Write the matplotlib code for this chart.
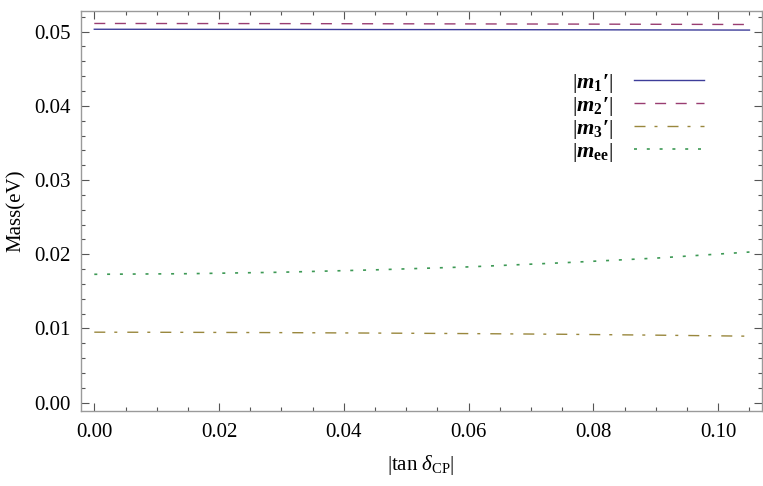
import matplotlib
matplotlib.use("Agg")
import matplotlib.pyplot as plt
import numpy as np

plt.rcParams['font.family'] = ['Liberation Serif', 'DejaVu Serif']
plt.rcParams['mathtext.fontset'] = 'custom'
plt.rcParams['mathtext.rm'] = 'Liberation Serif'
plt.rcParams['mathtext.it'] = 'Liberation Serif:italic'
plt.rcParams['mathtext.bf'] = 'Liberation Serif:bold'
plt.rcParams['mathtext.bfit'] = 'Liberation Serif:italic:bold'

# ---- data ----
tan_delta = [0.0, 0.015, 0.03, 0.045, 0.06, 0.075, 0.09, 0.105]
m1 = [0.05032, 0.05031, 0.05030, 0.05028, 0.05027, 0.05025, 0.05023, 0.05021]
m2 = [0.05110, 0.05109, 0.05108, 0.05106, 0.05104, 0.05102, 0.05099, 0.05096]
m3 = [0.00950, 0.00948, 0.00944, 0.00938, 0.00931, 0.00922, 0.00910, 0.00896]
mee = [0.01730, 0.01738, 0.01758, 0.01790, 0.01830, 0.01885, 0.01948, 0.02030]

labels = [r"$|\mathbfit{m}_{\mathbf{1}}\mathbf{′}|$",
          r"$|\mathbfit{m}_{\mathbf{2}}\mathbf{′}|$",
          r"$|\mathbfit{m}_{\mathbf{3}}\mathbf{′}|$",
          r"$|\mathbfit{m}_{\mathbf{ee}}|$"]
colors = ['#3d3d99', '#993d71', '#99873d', '#3d9955']

xticks = [0.00, 0.02, 0.04, 0.06, 0.08, 0.10]
yticks = [0.00, 0.01, 0.02, 0.03, 0.04, 0.05]

W, H = 763, 486
fig = plt.figure(figsize=(W / 100, H / 100), dpi=100)
ax = fig.add_axes([80.7 / W, (H - 410.7) / H, (761.7 - 80.7) / W, (410.7 - 11) / H])

px = 0.72  # points per pixel
lw = 1.0
ax.plot(tan_delta, m1, color=colors[0], lw=lw, label=labels[0])
ax.plot(tan_delta, m2, color=colors[1], lw=lw, label=labels[1],
        dashes=(11 * px / lw, 9.6 * px / lw))
ax.plot(tan_delta, m3, color=colors[2], lw=lw, label=labels[2],
        dashes=(11 * px / lw, 9 * px / lw, 3 * px / lw, 10 * px / lw))
ax.plot(tan_delta, mee, color=colors[3], lw=1.2, label=labels[3],
        dashes=(3 * px / 1.2, 9.8 * px / 1.2))

ax.set_xlim(-0.00218, 0.10696)
ax.set_ylim(-0.00108, 0.05278)
ax.set_xticks(xticks)
ax.set_xticklabels([f"{v:.2f}" for v in xticks])
ax.set_yticks(yticks)
ax.set_yticklabels([f"{v:.2f}" for v in yticks])
ax.set_xticks(np.arange(0, 0.1069, 0.005), minor=True)
ax.set_yticks(np.arange(0, 0.0528, 0.002), minor=True)

for s in ax.spines.values():
    s.set_color('#9a9a9a')
    s.set_linewidth(1.0)
ax.tick_params(which='both', direction='in', top=True, right=True,
               color='#555555', width=0.8, labelsize=15, labelcolor='black')
ax.tick_params(which='major', length=5.5)
ax.tick_params(which='minor', length=3.2)
ax.tick_params(axis='y', which='major', pad=7)
ax.tick_params(axis='x', which='major', pad=9)

ax.set_ylabel('Mass(eV)', fontsize=15, labelpad=6)
ax.set_xlabel(r"$|\mathrm{tan}\ \delta_{\mathrm{CP}}|$", fontsize=15, labelpad=8)

leg = ax.legend(loc='upper left', bbox_to_anchor=((572 - 80.7) / 681, (410.7 - 72) / 399.7),
                frameon=False, markerfirst=False, fontsize=16, handlelength=3.15,
                handletextpad=0.95, labelspacing=0.0, borderpad=0, borderaxespad=0)

fig.savefig('out.png', dpi=100)
